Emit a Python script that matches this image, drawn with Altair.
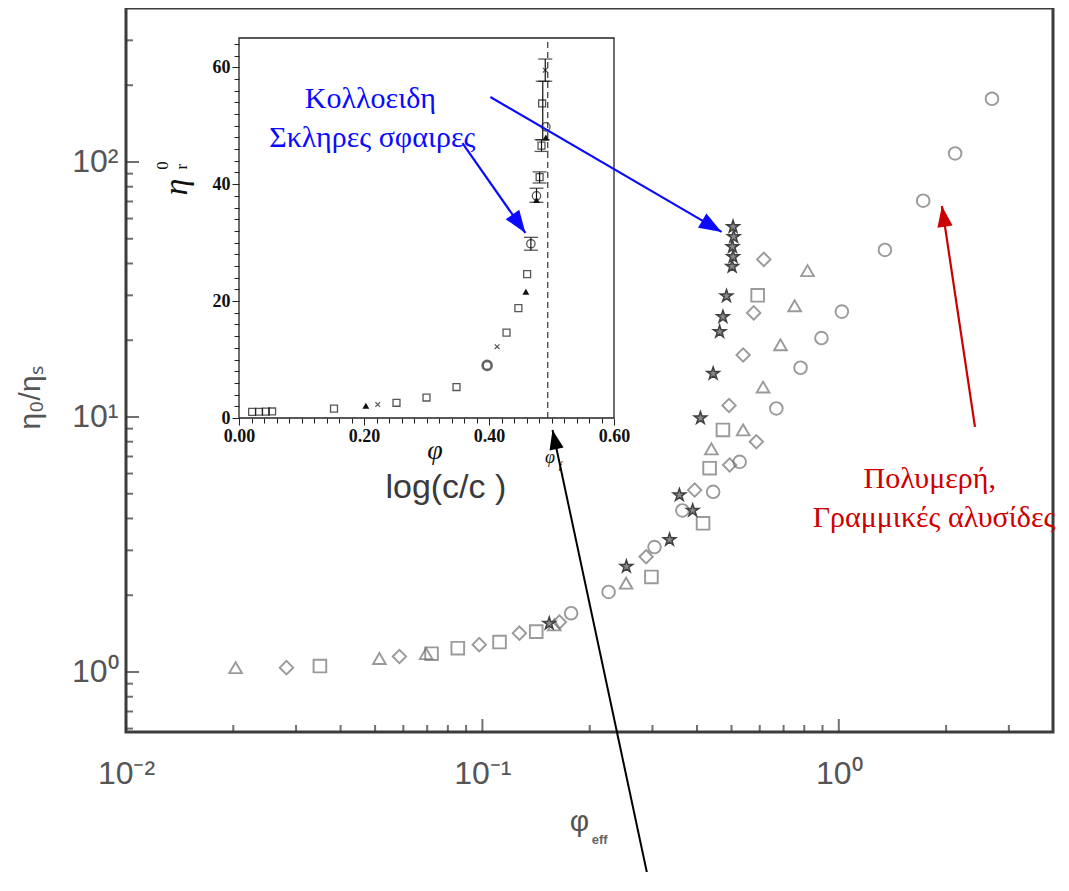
import math
import altair as alt
import pandas as pd

# ---------------- geometry / domains ----------------
W, H = 927, 724
X_DOM = [0.01, 3.99]
Y_DOM = [0.5817, 401.7]
IX_DOM = [0.0, 0.6]
IX_RANGE = [113, 488]
IY_DOM = [0.0, 65.0]
IY_RANGE = [410, 30]

# ---------------- main plot data (phi_eff, eta/eta_s) ----------------
tri_phi = [0.0203, 0.0514, 0.0695, 0.159, 0.253, 0.439, 0.539, 0.613, 0.686, 0.752, 0.817]
tri_eta = [1.04, 1.13, 1.18, 1.53, 2.23, 7.5, 8.9, 13.1, 19.2, 27.3, 37.5]
dia_phi = [0.0282, 0.0585, 0.098, 0.127, 0.1645, 0.288, 0.394, 0.494, 0.587, 0.492, 0.539, 0.577, 0.616]
dia_eta = [1.04, 1.15, 1.28, 1.42, 1.57, 2.83, 5.17, 6.48, 8.0, 11.1, 17.5, 25.6, 41.5]
sq_phi = [0.035, 0.072, 0.0853, 0.1117, 0.1416, 0.298, 0.416, 0.434, 0.473, 0.592]
sq_eta = [1.055, 1.18, 1.24, 1.31, 1.44, 2.36, 3.83, 6.3, 8.9, 30.0]
circ_phi = [0.1774, 0.226, 0.304, 0.364, 0.444, 0.527, 0.668, 0.781, 0.894, 1.02, 1.347, 1.725, 2.12, 2.69]
circ_eta = [1.70, 2.06, 3.09, 4.3, 5.09, 6.67, 10.8, 15.6, 20.4, 25.9, 45.2, 70.5, 108.0, 177.0]
star_phi = [0.154, 0.2535, 0.335, 0.357, 0.389, 0.409, 0.444, 0.463, 0.473, 0.484, 0.502, 0.505, 0.503, 0.507, 0.505]
star_eta = [1.55, 2.59, 3.3, 4.94, 4.3, 9.9, 14.8, 21.6, 24.7, 29.8, 38.9, 42.5, 46.5, 50.9, 55.7]

# main axis ticks / labels
x_major = [0.01, 0.1, 1]
x_labels = ["10⁻²", "10⁻¹", "10⁰"]
x_minor = [0.02, 0.03, 0.04, 0.05, 0.06, 0.07, 0.08, 0.09,
           0.2, 0.3, 0.4, 0.5, 0.6, 0.7, 0.8, 0.9, 2, 3]
y_major = [1, 10, 100]
y_labels = ["10⁰", "10¹", "10²"]
y_minor = [0.6, 0.7, 0.8, 0.9, 2, 3, 4, 5, 6, 7, 8, 9,
           20, 30, 40, 50, 60, 70, 80, 90, 200, 300]

# ---------------- inset data (phi, eta_r^0) ----------------
in_sq_phi = [0.021, 0.032, 0.043, 0.053, 0.152, 0.252, 0.300, 0.348, 0.428, 0.447, 0.461, 0.481, 0.484, 0.485]
in_sq_eta = [1.05, 1.07, 1.09, 1.12, 1.6, 2.6, 3.5, 5.3, 14.6, 18.8, 24.6, 41.2, 46.6, 53.8]
in_tri_phi = [0.203, 0.459, 0.476, 0.491]
in_tri_eta = [2.1, 21.6, 37.3, 48.0]
in_x_phi = [0.222, 0.413, 0.490]
in_x_eta = [2.3, 12.2, 59.5]
in_circ_phi = [0.467, 0.476, 0.491]
in_circ_eta = [29.8, 38.0, 49.8]
in_bold_phi = [0.397]
in_bold_eta = [9.0]
eb_phi = [0.467, 0.476, 0.481, 0.484, 0.486, 0.490]
eb_lo = [28.7, 36.9, 40.2, 45.6, 47.6, 57.6]
eb_hi = [30.9, 39.3, 42.1, 47.6, 57.6, 61.4]
phi_f = [0.494]
in_x_ticks = [round(0.02 * i, 2) for i in range(31)]
in_y_ticks = [2 * i for i in range(33)]

# ---------------- annotations ----------------
blue_text = ["Κολλοειδη", "Σκληρες σφαιρες"]
blue_text_phi = [0.0485, 0.0491]
blue_text_eta = [162.8, 114.5]
red_text = ["Πολυμερή,", "Γραμμικές αλυσίδες"]
red_text_phi = [1.80, 1.85]
red_text_eta = [5.27, 3.70]
blue_arrow_from_phi = [0.1053, 0.0879]
blue_arrow_from_eta = [179.8, 118.7]
blue_arrow_to_phi = [0.469, 0.132]
blue_arrow_to_eta = [53.2, 52.7]
red_arrow = {"phi": [2.41], "eta": [9.14], "phi2": [1.947], "eta2": [67.2]}
black_arrow = {"phi": [0.2965], "eta": [0.1397], "phi2": [0.1573], "eta2": [8.89]}

# ---------------- helpers ----------------
def lx(field="phi", axis=None):
    return alt.X(f"{field}:Q", scale=alt.Scale(type="log", domain=X_DOM, nice=False), axis=axis)

def ly(field="eta", axis=None):
    return alt.Y(f"{field}:Q", scale=alt.Scale(type="log", domain=Y_DOM, nice=False), axis=axis)

def ix(field="phi", axis=None):
    return alt.X(f"{field}:Q", scale=alt.Scale(domain=IX_DOM, range=IX_RANGE, nice=False, zero=False), axis=axis)

def iy(field="eta", axis=None):
    return alt.Y(f"{field}:Q", scale=alt.Scale(domain=IY_DOM, range=IY_RANGE, nice=False, zero=False), axis=axis)

def label_expr(vals, labs):
    s = ""
    for v, l in zip(vals, labs):
        s += f"abs(log(datum.value)/log(10) - ({math.log10(v)})) < 0.01 ? '{l}' : "
    return s + "''"

def df(phi, eta):
    return pd.DataFrame({"phi": phi, "eta": eta})

LABEL_FONT = "Liberation Sans Narrow, Liberation Sans, sans-serif"
SERIF = "Liberation Serif, DejaVu Serif, serif"
GREY = "#707070"
STAR = "M0,-1L0.2245,-0.309L0.9511,-0.309L0.3633,0.118L0.5878,0.809L0,0.382L-0.5878,0.809L-0.3633,0.118L-0.9511,-0.309L-0.2245,-0.309Z"
XMARK = "M-1,-1L1,1M1,-1L-1,1"
HEAD = "M0,0L0.7,1.9L-0.7,1.9Z"

main_x_axis = alt.Axis(values=x_major, labelExpr=label_expr(x_major, x_labels), ticks=False,
                       domain=False, grid=False, labelFont=LABEL_FONT, labelFontSize=32,
                       labelColor="#555555", labelPadding=26, title=None, labelFlush=False,
                       labelOverlap=False)
main_y_axis = alt.Axis(values=y_major, labelExpr=label_expr(y_major, y_labels), ticks=False,
                       domain=False, grid=False, labelFont=LABEL_FONT, labelFontSize=32,
                       labelColor="#555555", labelPadding=8, title=None, labelOverlap=False,
                       labelFlush=False)

inset_x_axis = alt.Axis(orient="bottom", offset=-314, values=in_x_ticks,
                        labelExpr="abs(datum.value*5 - round(datum.value*5)) < 0.000001 ? format(datum.value, '.2f') : ''",
                        tickSize={"condition": {"test": "abs(datum.value*5 - round(datum.value*5)) < 0.000001", "value": 7}, "value": 5},
                        tickColor="#222222", tickWidth=1, domain=False, grid=False,
                        labelFont=SERIF, labelFontWeight="bold", labelFontSize=18,
                        labelColor="#111111", labelPadding=2, title=None, labelFlush=False,
                        labelOverlap=False, zindex=2)
inset_y_axis = alt.Axis(orient="left", offset=-113, values=in_y_ticks,
                        labelExpr="datum.value % 20 == 0 ? datum.value : ''",
                        tickSize={"condition": {"test": "datum.value % 20 == 0", "value": 7}, "value": 5},
                        tickColor="#222222", tickWidth=1, domain=False, grid=False,
                        labelFont=SERIF, labelFontWeight="bold", labelFontSize=18,
                        labelColor="#111111", labelPadding=2, title=None, labelFlush=False,
                        labelOverlap=False, zindex=2)

layers = []

# ---------------- main plot ----------------
layers.append(alt.Chart(df(tri_phi, tri_eta)).mark_point(shape="triangle-up", size=160, filled=False,
              color=GREY, strokeWidth=1.9).encode(x=lx(axis=main_x_axis), y=ly(axis=main_y_axis)))
layers.append(alt.Chart(df(dia_phi, dia_eta)).mark_point(shape="diamond", size=180, filled=False,
              color=GREY, strokeWidth=1.9).encode(x=lx(), y=ly()))
layers.append(alt.Chart(df(sq_phi, sq_eta)).mark_point(shape="square", size=160, filled=False,
              color=GREY, strokeWidth=1.9).encode(x=lx(), y=ly()))
layers.append(alt.Chart(df(circ_phi, circ_eta)).mark_point(shape="circle", size=160, filled=False,
              color=GREY, strokeWidth=1.9).encode(x=lx(), y=ly()))
layers.append(alt.Chart(df(star_phi, star_eta)).mark_point(shape=STAR, size=170, filled=True,
              fill="#8a8a8a", stroke="#404040", strokeWidth=1.5, opacity=1).encode(x=lx(), y=ly()))

# inward ticks of main axes
layers.append(alt.Chart(pd.DataFrame({"eta": y_major})).mark_tick(orient="horizontal", size=13, thickness=2,
              color="#333333", xOffset=6.5).encode(x=alt.value(0), y=ly()))
layers.append(alt.Chart(pd.DataFrame({"eta": y_minor})).mark_tick(orient="horizontal", size=7, thickness=2,
              color="#333333", xOffset=3.5).encode(x=alt.value(0), y=ly()))
layers.append(alt.Chart(pd.DataFrame({"phi": x_major})).mark_tick(orient="vertical", size=13, thickness=2,
              color="#333333", yOffset=-6.5).encode(x=lx(), y=alt.value(H)))
layers.append(alt.Chart(pd.DataFrame({"phi": x_minor})).mark_tick(orient="vertical", size=7, thickness=2,
              color="#333333", yOffset=-3.5).encode(x=lx(), y=alt.value(H)))

# main axis titles
layers.append(alt.Chart(pd.DataFrame({"phi": [0.1873], "eta": [0.258], "t": ["φ"]})).mark_text(
    font="Liberation Sans", fontSize=30, color="#555555", align="center", baseline="middle").encode(
    x=lx(), y=ly(), text="t:N"))
layers.append(alt.Chart(pd.DataFrame({"phi": [0.2133], "eta": [0.2194], "t": ["eff"]})).mark_text(
    font="Liberation Sans", fontSize=13, fontWeight="bold", color="#666666", align="center", baseline="middle").encode(
    x=lx(), y=ly(), text="t:N"))
layers.append(alt.Chart(pd.DataFrame({"phi": [0.0054], "eta": [11.87], "t": ["η₀/ηₛ"]})).mark_text(
    font="Liberation Sans", fontSize=30, color="#555555", align="center", baseline="middle", angle=270).encode(
    x=lx(), y=ly(), text="t:N"))

# ---------------- inset ----------------
layers.append(alt.Chart(pd.DataFrame({"phi": [IX_DOM[0]], "phi2": [IX_DOM[1]], "eta": [IY_DOM[0]], "eta2": [IY_DOM[1]]}))
              .mark_rect(fill="white", stroke="#222222", strokeWidth=1.3)
              .encode(x=ix(), x2="phi2:Q", y=iy(), y2="eta2:Q"))
layers.append(alt.Chart(pd.DataFrame({"phi": phi_f, "eta": [IY_DOM[0]], "eta2": [IY_DOM[1]]}))
              .mark_rule(color="#333333", strokeWidth=1.2, strokeDash=[6, 4])
              .encode(x=ix(), y=iy(), y2="eta2:Q"))
layers.append(alt.Chart(pd.DataFrame({"phi": eb_phi, "eta": eb_lo, "eta2": eb_hi}))
              .mark_rule(color="#111111", strokeWidth=1.2).encode(x=ix(), y=iy(), y2="eta2:Q"))
layers.append(alt.Chart(pd.DataFrame({"phi": eb_phi + eb_phi, "eta": eb_lo + eb_hi}))
              .mark_tick(orient="horizontal", size=14, thickness=1.3, color="#111111").encode(x=ix(), y=iy()))
layers.append(alt.Chart(df(in_sq_phi, in_sq_eta)).mark_point(shape="square", size=48, filled=False,
              color="#111111", strokeWidth=1.3).encode(x=ix(axis=inset_x_axis), y=iy(axis=inset_y_axis)))
layers.append(alt.Chart(df(in_tri_phi, in_tri_eta)).mark_point(shape="triangle-up", size=48, filled=True,
              color="#111111", opacity=1).encode(x=ix(), y=iy()))
layers.append(alt.Chart(df(in_x_phi, in_x_eta)).mark_point(shape=XMARK, size=22, filled=False,
              color="#111111", strokeWidth=1.2).encode(x=ix(), y=iy()))
layers.append(alt.Chart(df(in_circ_phi, in_circ_eta)).mark_point(shape="circle", size=70, filled=False,
              color="#111111", strokeWidth=1.3).encode(x=ix(), y=iy()))
layers.append(alt.Chart(df(in_bold_phi, in_bold_eta)).mark_point(shape="circle", size=80, filled=False,
              color="#222222", strokeWidth=2.6).encode(x=ix(), y=iy()))

# inset labels
layers.append(alt.Chart(pd.DataFrame({"phi": [-0.0992], "eta": [39.5], "t": ["η"]})).mark_text(
    font=SERIF, fontStyle="italic", fontSize=34, color="#111111", align="center",
    baseline="middle", angle=270).encode(x=ix(), y=iy(), text="t:N"))
layers.append(alt.Chart(pd.DataFrame({"phi": [-0.0912, -0.1216], "eta": [43.0, 43.2], "t": ["r", "0"]})).mark_text(
    font=SERIF, fontSize=17, color="#111111", align="center",
    baseline="middle", angle=270).encode(x=ix(), y=iy(), text="t:N"))
layers.append(alt.Chart(pd.DataFrame({"phi": [0.3136], "eta": [-5.6], "t": ["φ"]})).mark_text(
    font=SERIF, fontStyle="italic", fontSize=28, color="#111111", align="center",
    baseline="middle").encode(x=ix(), y=iy(), text="t:N"))
layers.append(alt.Chart(pd.DataFrame({"phi": [0.331], "eta": [-12.0], "t": ["log(c/c )"]})).mark_text(
    font="Liberation Sans", fontSize=34, color="#3a3a3a", align="center",
    baseline="middle").encode(x=ix(), y=iy(), text="t:N"))
layers.append(alt.Chart(pd.DataFrame({"phi": [0.4976], "eta": [-6.8], "t": ["φ"]})).mark_text(
    font=SERIF, fontStyle="italic", fontSize=18, color="#111111", align="center",
    baseline="middle").encode(x=ix(), y=iy(), text="t:N"))
layers.append(alt.Chart(pd.DataFrame({"phi": [0.514], "eta": [-8.2], "t": ["f"]})).mark_text(
    font=SERIF, fontStyle="italic", fontSize=11, color="#111111", align="center",
    baseline="middle").encode(x=ix(), y=iy(), text="t:N"))

# ---------------- annotations (main scale) ----------------
layers.append(alt.Chart(pd.DataFrame({"phi": blue_text_phi, "eta": blue_text_eta, "t": blue_text})).mark_text(
    font=SERIF, fontSize=30, color="#0a0aff", align="center", baseline="alphabetic").encode(
    x=lx(), y=ly(), text="t:N"))
layers.append(alt.Chart(pd.DataFrame({"phi": red_text_phi, "eta": red_text_eta, "t": red_text})).mark_text(
    font=SERIF, fontSize=30, color="#cc0000", align="center", baseline="alphabetic").encode(
    x=lx(), y=ly(), text="t:N"))

blue_arrows = pd.DataFrame({"phi": blue_arrow_from_phi, "eta": blue_arrow_from_eta,
                            "phi2": blue_arrow_to_phi, "eta2": blue_arrow_to_eta})
layers.append(alt.Chart(blue_arrows).mark_rule(color="#0a0aff", strokeWidth=2.2).encode(
    x=lx(), y=ly(), x2="phi2:Q", y2="eta2:Q"))
layers.append(alt.Chart(pd.DataFrame(red_arrow)).mark_rule(color="#cc0000", strokeWidth=2.2).encode(
    x=lx(), y=ly(), x2="phi2:Q", y2="eta2:Q"))
layers.append(alt.Chart(pd.DataFrame(black_arrow)).mark_rule(color="#000000", strokeWidth=2).encode(
    x=lx(), y=ly(), x2="phi2:Q", y2="eta2:Q"))

heads = [
    (blue_arrow_to_phi[0], blue_arrow_to_eta[0], 120.3, "#0a0aff", 560),
    (blue_arrow_to_phi[1], blue_arrow_to_eta[1], 145.0, "#0a0aff", 560),
    (red_arrow["phi2"][0], red_arrow["eta2"][0], 351.5, "#cc0000", 480),
    (black_arrow["phi2"][0], black_arrow["eta2"][0], 348.0, "#000000", 420),
]
for hp, he, ang, col, sz in heads:
    layers.append(alt.Chart(df([hp], [he])).mark_point(shape=HEAD, size=sz, filled=True, color=col,
                  opacity=1, angle=ang, strokeWidth=0).encode(x=lx(), y=ly()))

chart = (alt.layer(*layers)
         .resolve_scale(x="independent", y="independent")
         .properties(width=W, height=H,
                     padding={"left": 118, "top": 0, "right": 4, "bottom": 140},
                     autosize=alt.AutoSizeParams(type="none"),
                     background="white")
         .configure_view(stroke="#3c3c3c", strokeWidth=3))

chart.save("out.html", embed_options={"renderer": "svg", "actions": False})
